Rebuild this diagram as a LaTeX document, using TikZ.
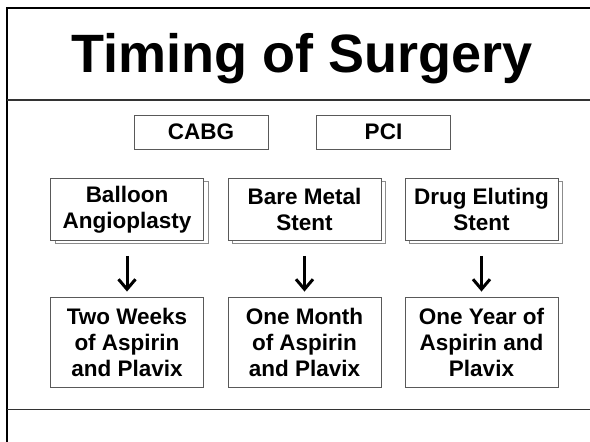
\documentclass[tikz,border=0pt]{standalone}
\usepackage{fontspec}
\setmainfont{Liberation Sans}
\usetikzlibrary{arrows.meta,shadows}

\definecolor{boxline}{gray}{0.35}
\definecolor{shadowline}{gray}{0.55}

\tikzset{
  plainbox/.style={draw=boxline, line width=0.9pt, rectangle, fill=white, inner sep=0pt,
    align=center, font=\fontsize{22.5}{26}\selectfont\bfseries},
  stentbox/.style={plainbox, minimum width=153pt, minimum height=62pt,
    copy shadow={shadow xshift=4.5pt, shadow yshift=-3pt, draw=shadowline, fill=white}},
  drugbox/.style={plainbox, minimum width=153pt, minimum height=90pt},
  down/.style={-{Straight Barb[length=10pt,width=17pt,line width=3pt]}, line width=3pt,
    shorten <=15pt, shorten >=5pt}
}

\begin{document}
\begin{tikzpicture}[x=1pt, y=-1pt]
  \useasboundingbox (0,0) rectangle (590,442);

  % slide frame
  \draw [line width=2pt] (7,442) -- (7,8) -- (590,8);
  \draw [line width=1.4pt, black!80] (7,100) -- (590,100);
  \draw [line width=1.4pt, black!80] (7,409.5) -- (590,409.5);

  \node (title) [anchor=base, font=\fontsize{54}{60}\selectfont\bfseries] at (302,72) {Timing of Surgery};

  \node (cabg) [plainbox, minimum width=134pt, minimum height=34pt] at (201,132) {CABG};
  \node (pci) [plainbox, minimum width=134pt, minimum height=34pt] at (383.5,132) {PCI};

  \node (balloon) [stentbox] at (127,209.5) {Balloon\\Angioplasty};
  \node (bms) [stentbox] at (304.5,209.5) {Bare Metal\\Stent};
  \node (des) [stentbox] at (481.5,209.5) {Drug Eluting\\Stent};

  \node (weeks) [drugbox] at (127,342) {Two Weeks\\of Aspirin\\and Plavix};
  \node (month) [drugbox] at (304.5,342) {One Month\\of Aspirin\\and Plavix};
  \node (year) [drugbox] at (481.5,342) {One Year of\\Aspirin and\\Plavix};

  \draw [down] (balloon) -- (weeks);
  \draw [down] (bms) -- (month);
  \draw [down] (des) -- (year);
\end{tikzpicture}
\end{document}
